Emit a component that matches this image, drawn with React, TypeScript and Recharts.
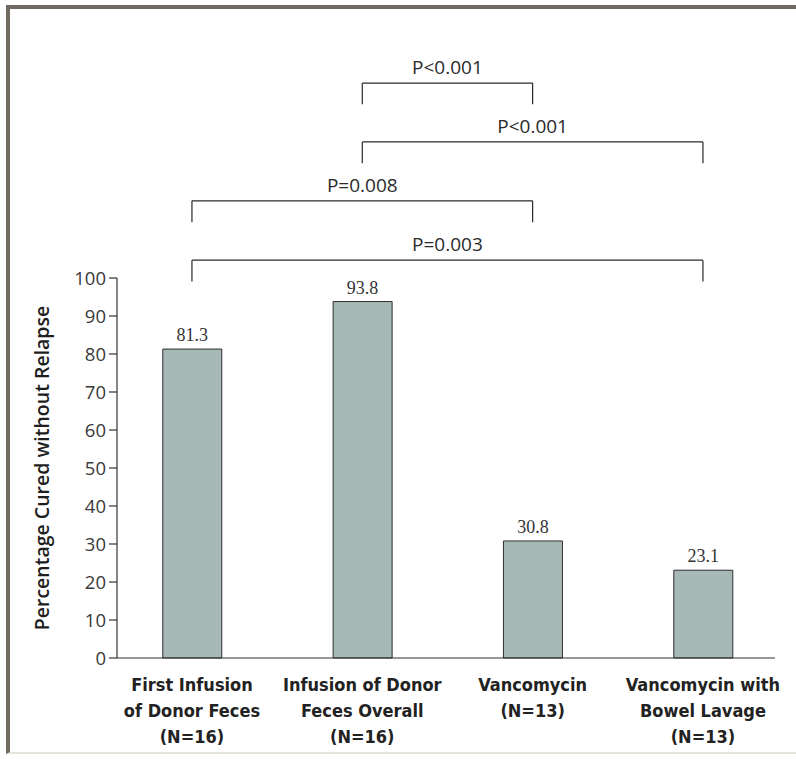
import React from 'react';
import { ComposedChart, Bar, XAxis, YAxis, LabelList, ReferenceLine } from 'recharts';

const categoryLines: string[][] = [
  ['First Infusion', 'of Donor Feces', '(N=16)'],
  ['Infusion of Donor', 'Feces Overall', '(N=16)'],
  ['Vancomycin', '(N=13)'],
  ['Vancomycin with', 'Bowel Lavage', '(N=13)'],
];
const positions = [1, 2, 3, 4];
const curedPercent = [81.3, 93.8, 30.8, 23.1];
const yTicks = [0, 10, 20, 30, 40, 50, 60, 70, 80, 90, 100];

const bracketFrom = [2, 2, 1, 1];
const bracketTo = [3, 4, 3, 4];
const bracketLevel = [151.3, 135.8, 120.3, 104.7];
const bracketDrop = 5.6;
const pLabels = ['P<0.001', 'P<0.001', 'P=0.008', 'P=0.003'];

const data = positions.map((p, i) => ({ pos: p, value: curedPercent[i] }));

const SANS = '"Open Sans", "Noto Sans", sans-serif';
const NARROW = '"Liberation Sans Narrow", "DejaVu Sans Condensed", Roboto, sans-serif';

const CatTick = (props: any) => {
  const { x, y, payload } = props;
  const idx = positions.indexOf(payload.value);
  const lines = idx >= 0 ? categoryLines[idx] : [];
  return (
    <g>
      {lines.map((l, i) => (
        <text
          key={i}
          x={x}
          y={y + 25 + i * 26}
          textAnchor="middle"
          fontFamily={NARROW}
          fontWeight={700}
          fontSize={18}
          fill="#222"
        >
          {l}
        </text>
      ))}
    </g>
  );
};

export default function App() {
  const lineColor = '#2a2a2a';
  const refs: React.ReactNode[] = [];
  bracketFrom.forEach((f, i) => {
    const t = bracketTo[i];
    const lv = bracketLevel[i];
    refs.push(
      <ReferenceLine
        key={`h${i}`}
        segment={[{ x: f, y: lv }, { x: t, y: lv }]}
        stroke={lineColor}
        strokeWidth={1.2}
        ifOverflow="visible"
        label={{
          value: pLabels[i],
          position: 'top',
          offset: 9,
          fill: '#2a2a2a',
          fontSize: 19,
          fontFamily: SANS,
        }}
      />
    );
    refs.push(
      <ReferenceLine
        key={`l${i}`}
        segment={[{ x: f, y: lv }, { x: f, y: lv - bracketDrop }]}
        stroke={lineColor}
        strokeWidth={1.2}
        ifOverflow="visible"
      />
    );
    refs.push(
      <ReferenceLine
        key={`r${i}`}
        segment={[{ x: t, y: lv }, { x: t, y: lv - bracketDrop }]}
        stroke={lineColor}
        strokeWidth={1.2}
        ifOverflow="visible"
      />
    );
  });

  return (
    <div style={{ position: 'absolute', left: 0, top: 0, width: 796, height: 759, background: '#fff', overflow: 'hidden' }}>
      <div
        style={{
          position: 'absolute',
          left: 6,
          top: 5,
          width: 800,
          height: 749,
          borderTop: '4px solid #6e6a60',
          borderLeft: '4px solid #6e6a60',
          borderBottom: '2px solid #e4e4dc',
          boxSizing: 'border-box',
        }}
      />
      <div style={{ position: 'absolute', left: 0, top: 0 }}>
        <ComposedChart
          width={796}
          height={759}
          data={data}
          margin={{ top: 278, right: 21, bottom: 11, left: 57 }}
        >
          <XAxis
            dataKey="pos"
            type="number"
            domain={[0.56, 4.423]}
            ticks={positions}
            allowDataOverflow
            tickLine={false}
            axisLine={{ stroke: '#333', strokeWidth: 1.2 }}
            tick={<CatTick />}
            height={90}
            interval={0}
          />
          <YAxis
            type="number"
            domain={[0, 100]}
            ticks={yTicks}
            width={60}
            tickSize={8}
            tickMargin={3}
            tickLine={{ stroke: '#333', strokeWidth: 1.2 }}
            axisLine={{ stroke: '#333', strokeWidth: 1.2 }}
            tick={{ fill: '#3a3a3a', fontSize: 18.5, fontFamily: SANS }}
            label={{
              value: 'Percentage Cured without Relapse',
              angle: -90,
              position: 'insideLeft',
              dx: -20,
              style: { textAnchor: 'middle', fill: '#1e1e1e', fontSize: 19.5, fontWeight: 600, fontFamily: SANS },
            }}
          />
          <Bar dataKey="value" barSize={59} fill="#a7b9b6" stroke="#2e2e2e" strokeWidth={1} isAnimationActive={false}>
            <LabelList
              dataKey="value"
              position="top"
              offset={8}
              formatter={(v: any) => Number(v).toFixed(1)}
              style={{ fill: '#333', fontSize: 18, fontFamily: '"Liberation Serif", serif' }}
            />
          </Bar>
          {refs}
        </ComposedChart>
      </div>
    </div>
  );
}
